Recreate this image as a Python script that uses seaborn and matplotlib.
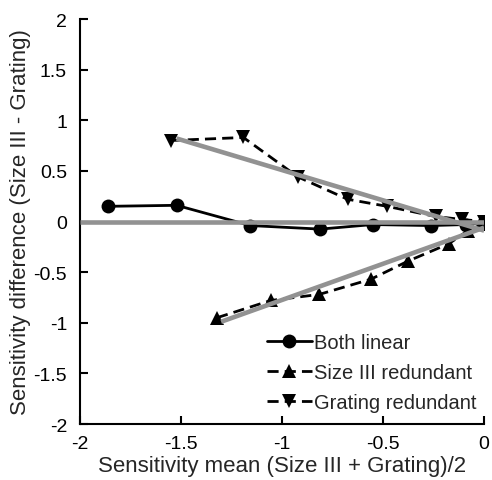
import matplotlib
matplotlib.use("Agg")
import matplotlib.pyplot as plt
import pandas as pd
import seaborn as sns

# values
both_x = [-1.86, -1.52, -1.155, -0.81, -0.55, -0.265, -0.09, 0.0]
both_y = [0.15, 0.16, -0.04, -0.075, -0.03, -0.04, -0.03, -0.01]

size_x = [-1.32, -1.055, -0.815, -0.56, -0.375, -0.175, -0.08, 0.0]
size_y = [-0.95, -0.78, -0.72, -0.57, -0.39, -0.22, -0.09, -0.02]

grat_x = [-1.55, -1.19, -0.92, -0.675, -0.48, -0.24, -0.11, 0.0]
grat_y = [0.80, 0.83, 0.44, 0.22, 0.15, 0.05, 0.02, 0.0]

# grey reference / fit lines (endpoints)
zero_x, zero_y = [-2.0, 0.0], [0.0, 0.0]
fit_up_x, fit_up_y = [-1.52, 0.0], [0.82, -0.09]
fit_lo_x, fit_lo_y = [-1.30, 0.0], [-0.99, -0.06]

xticks = [-2, -1.5, -1, -0.5, 0]
yticks = [-2, -1.5, -1, -0.5, 0, 0.5, 1, 1.5, 2]

sns.set_style("white")
plt.rcParams["font.family"] = ["Liberation Sans", "DejaVu Sans"]

fig = plt.figure(figsize=(4.92, 4.81), dpi=100)
ax = fig.add_axes([0.1616, 0.1164, 0.8224, 0.842])

grey = "#929292"
for gx, gy in [(zero_x, zero_y), (fit_up_x, fit_up_y), (fit_lo_x, fit_lo_y)]:
    sns.lineplot(x=gx, y=gy, ax=ax, color=grey, linewidth=3.3, zorder=3,
                 solid_capstyle="butt")

series = [
    ("Both linear", both_x, both_y, "o", "-"),
    ("Size III redundant", size_x, size_y, "^", (0, (4, 2.2))),
    ("Grating redundant", grat_x, grat_y, "v", (0, (4, 2.2))),
]
for name, sx, sy, mk, ls in series:
    df = pd.DataFrame({"x": sx, "y": sy})
    sns.lineplot(data=df, x="x", y="y", ax=ax, color="black", marker=mk,
                 markersize=10, markeredgewidth=0, linestyle=ls,
                 linewidth=2.0, label=name, zorder=2, sort=False)

ax.set_xlim(-2, 0)
ax.set_ylim(-2, 2)
ax.set_xticks(xticks)
ax.set_xticklabels(["-2", "-1.5", "-1", "-0.5", "0"])
ax.set_yticks(yticks)
ax.set_yticklabels(["-2", "-1.5", "-1", "-0.5", "0", "0.5", "1", "1.5", "2"])
ax.tick_params(direction="in", length=6, width=1.5, labelsize=14,
               colors="black", pad=8, left=True, bottom=True)
ax.tick_params(axis="y", pad=9)
for side in ["top", "right"]:
    ax.spines[side].set_visible(False)
for side in ["left", "bottom"]:
    ax.spines[side].set_linewidth(1.5)
    ax.spines[side].set_color("black")

ax.set_xlabel("Sensitivity mean (Size III + Grating)/2", fontsize=16,
              labelpad=2)
ax.set_ylabel("Sensitivity difference (Size III - Grating)", fontsize=16,
              labelpad=2)

ax.legend(loc="lower right", bbox_to_anchor=(1.0, 0.01), frameon=False,
          fontsize=14.5, handlelength=2.2, handletextpad=0.1,
          labelspacing=0.55, borderaxespad=0)

fig.savefig("out.png", dpi=100)
